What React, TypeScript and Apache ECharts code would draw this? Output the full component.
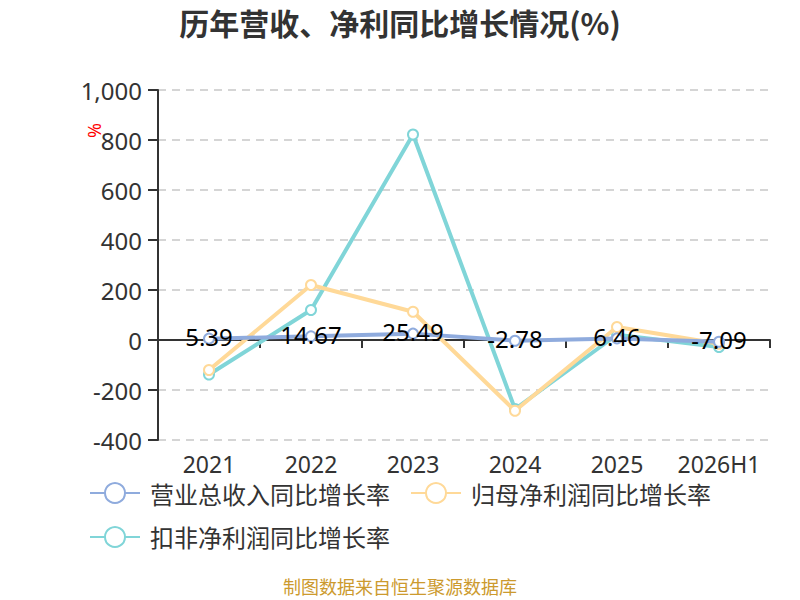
import React, { useEffect, useRef } from "react";
import * as echarts from "echarts";

const categories = ["2021", "2022", "2023", "2024", "2025", "2026H1"];
const revenueGrowth = [5.39, 14.67, 25.49, -2.78, 6.46, -7.09];
const netProfitGrowth = [-120, 220, 113, -283, 52, -15];
const deductedProfitGrowth = [-138, 120, 822, -276, 21, -28];
const seriesNames = ["营业总收入同比增长率", "归母净利润同比增长率", "扣非净利润同比增长率"];
const colors = ["#8fabdd", "#ffd998", "#80d5d8"];

const FONT = "'Noto Sans', 'Noto Sans CJK SC', sans-serif";
const CJK = "'Noto Sans CJK SC', sans-serif";

export default function App() {
  const ref = useRef<HTMLDivElement>(null);
  useEffect(() => {
    document.body.style.margin = "0";
    if (!ref.current) return;
    const chart = echarts.init(ref.current, undefined, { renderer: "svg" });
    const mkSeries = (i: number, data: number[], label: boolean) => ({
      name: seriesNames[i],
      type: "line",
      data,
      xAxisIndex: 0,
      symbol: "emptyCircle",
      symbolSize: 10,
      lineStyle: { color: colors[i], width: 4 },
      itemStyle: { color: colors[i], borderWidth: 2 },
      label: label
        ? {
            show: true,
            position: "inside",
            offset: [0, -2],
            color: "#000",
            fontSize: 24,
            fontFamily: FONT,
          }
        : { show: false },
      z: 3 - i,
    });
    chart.setOption({
      animation: false,
      backgroundColor: "#fff",
      title: {
        text: "历年营收、净利同比增长情况(%)",
        left: "center",
        top: 2,
        textStyle: { fontSize: 30, fontWeight: "bold", color: "#333", fontFamily: CJK },
      },
      legend: {
        data: seriesNames,
        left: 89,
        top: 481,
        padding: 0,
        itemWidth: 50,
        itemHeight: 25,
        itemGap: 20,
        textStyle: { fontSize: 24, color: "#333", fontFamily: CJK, padding: [0, 0, 0, 5] },
      },
      grid: { left: 158, right: 30, top: 90, bottom: 160, containLabel: false },
      xAxis: [
        {
          type: "category",
          data: categories,
          position: "bottom",
          axisLine: { show: false, onZero: false },
          axisTick: { show: false },
          axisLabel: { fontSize: 23, color: "#333", margin: 12, interval: 0, fontFamily: FONT },
        },
        {
          type: "category",
          data: categories,
          position: "bottom",
          axisLine: { show: true, onZero: true, lineStyle: { color: "#333", width: 2 } },
          axisTick: { show: true, length: 8, interval: 0, lineStyle: { color: "#333", width: 2 } },
          axisLabel: { show: false },
        },
      ],
      yAxis: {
        type: "value",
        min: -400,
        max: 1000,
        interval: 200,
        axisLine: { show: true, lineStyle: { color: "#333", width: 2 } },
        axisTick: { show: true, length: 10, lineStyle: { color: "#333", width: 2 } },
        axisLabel: {
          fontSize: 24,
          color: "#333",
          margin: 16,
          fontFamily: FONT,
          formatter: (v: number) => v.toLocaleString("en-US"),
        },
        splitLine: { show: true, lineStyle: { color: "#c8c8c8", width: 1.5, type: [8, 6] } },
      },
      graphic: [
        {
          type: "text",
          x: 104,
          y: 123,
          rotation: -Math.PI / 2,
          style: { text: "%", fill: "#ff0000", fontSize: 18, fontFamily: FONT },
        },
        {
          type: "text",
          left: "center",
          top: 577,
          style: { text: "制图数据来自恒生聚源数据库", fill: "#cc9a2e", fontSize: 18, fontFamily: CJK },
        },
      ],
      series: [
        mkSeries(0, revenueGrowth, true),
        mkSeries(1, netProfitGrowth, false),
        mkSeries(2, deductedProfitGrowth, false),
      ],
    });
    return () => chart.dispose();
  }, []);
  return <div ref={ref} style={{ width: 800, height: 600 }} />;
}
